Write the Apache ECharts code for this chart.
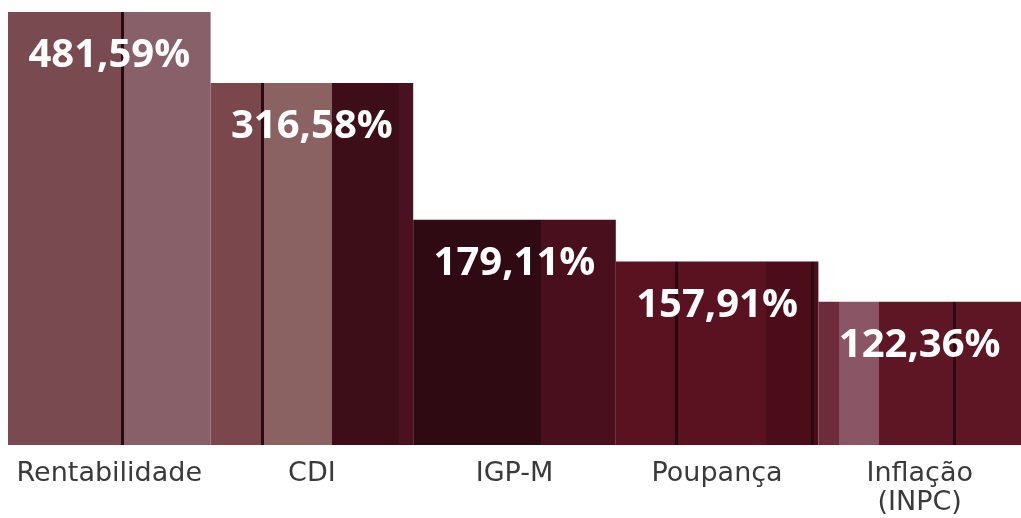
<!DOCTYPE html>
<html>
<head>
<meta charset="utf-8">
<script src="https://cdn.jsdelivr.net/npm/echarts@6/dist/echarts.min.js"></script>
<style>
html,body{margin:0;padding:0;background:#fff;}
#c{width:1021px;height:518px;}
</style>
</head>
<body>
<div id="c"></div>
<script>
// Data
const categories = ['Rentabilidade', 'CDI', 'IGP-M', 'Poupança', 'Inflação\n(INPC)'];
const values = [481.59, 316.58, 179.11, 157.91, 122.36];          // printed percentages
const barLevels = [100, 83.6, 52.0, 42.4, 33.1];                   // drawn bar height, % of tallest (chart is not to scale)

// Styles: vertical stripe patterns per bar (offset relative to bar width)
function stops(list) { return list.map(s => ({ offset: s[0], color: s[1] })); }
const line = '#2a0a12';
const barStripes = [
  stops([[0, '#7a4a51'], [0.56, '#7a4a51'], [0.56, line], [0.575, line], [0.575, '#88606a'], [1, '#88606a']]),
  stops([[0, '#7a484c'], [0.25, '#7a484c'], [0.25, line], [0.265, line], [0.265, '#8a6262'], [0.6, '#8a6262'], [0.6, '#3e0e18'], [0.93, '#3e0e18'], [0.93, '#4a1220'], [1, '#4a1220']]),
  stops([[0, '#300a13'], [0.63, '#300a13'], [0.63, '#4a0f1d'], [1, '#4a0f1d']]),
  stops([[0, '#5a1220'], [0.29, '#5a1220'], [0.29, line], [0.305, line], [0.305, '#5a1220'], [0.74, '#5a1220'], [0.74, '#4c0c19'], [0.965, '#4c0c19'], [0.965, line], [0.98, line], [0.98, '#4c0c19'], [1, '#4c0c19']]),
  stops([[0, '#6e2c3a'], [0.1, '#6e2c3a'], [0.1, '#8a5564'], [0.3, '#8a5564'], [0.3, '#5e1524'], [0.665, '#5e1524'], [0.665, line], [0.68, line], [0.68, '#5e1524'], [1, '#5e1524']])
];

const chart = echarts.init(document.getElementById('c'));
chart.setOption({
  backgroundColor: '#ffffff',
  animation: false,
  grid: { left: 8, right: 0, top: 12, bottom: 73, containLabel: false, outerBoundsMode: 'none' },
  xAxis: {
    type: 'category',
    data: categories,
    axisLine: { show: false },
    axisTick: { show: false },
    axisLabel: {
      color: '#3a3a3a',
      fontFamily: 'DejaVu Sans',
      fontSize: 27,
      lineHeight: 29,
      margin: 14,
      interval: 0
    }
  },
  yAxis: {
    type: 'value',
    min: 0,
    max: 100,
    show: false,
    splitLine: { show: false }
  },
  series: [{
    type: 'bar',
    barCategoryGap: 0,
    barWidth: '100%',
    data: barLevels.map((v, i) => ({
      value: v,
      itemStyle: {
        color: { type: 'linear', x: 0, y: 0, x2: 1, y2: 0, colorStops: barStripes[i] }
      }
    })),
    label: {
      show: true,
      position: 'insideTop',
      distance: 21,
      color: '#ffffff',
      fontFamily: 'Open Sans',
      fontWeight: 'bold',
      fontSize: 40,
      lineHeight: 46,
      formatter: p => values[p.dataIndex].toFixed(2).replace('.', ',') + '%'
    }
  }]
});
</script>
</body>
</html>
